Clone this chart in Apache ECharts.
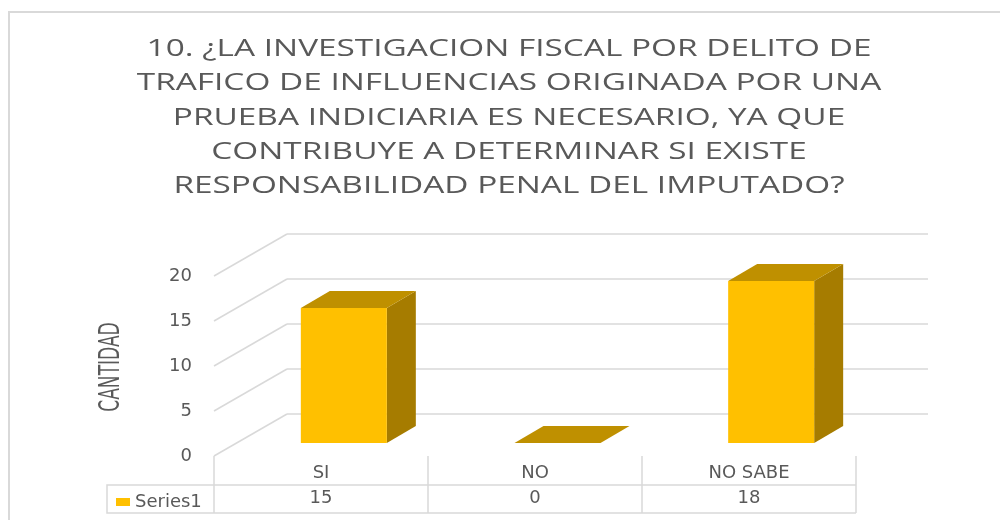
<!DOCTYPE html>
<html>
<head>
<meta charset="utf-8">
<script src="https://cdn.jsdelivr.net/npm/echarts@6/dist/echarts.min.js"></script>
<style>
  html, body { margin: 0; padding: 0; background: #fff; }
  #chart { width: 1000px; height: 520px; }
</style>
</head>
<body>
<div id="chart"></div>
<script>
// data
const categories = ['SI', 'NO', 'NO SABE'];
const seriesName = 'Series1';
const seriesValues = [15, 0, 18];
const yTicks = [0, 5, 10, 15, 20];

const titleLines = [
    '10. ¿LA INVESTIGACION FISCAL POR DELITO DE',
    'TRAFICO DE INFLUENCIAS ORIGINADA POR UNA',
    'PRUEBA INDICIARIA ES NECESARIO, YA QUE',
    'CONTRIBUYE A DETERMINAR SI EXISTE',
    'RESPONSABILIDAD PENAL DEL IMPUTADO?'
];

const textColor = '#595959';
const gridColor = '#d9d9d9';
const titleFont = '"Open Sans", "DejaVu Sans", sans-serif';
const font = '"DejaVu Sans", "Open Sans", sans-serif';

// 3D look: offsets from back wall plane
const FRONT = [-50, 29];   // bar front face
const BACK = [-21, 12];    // bar back face
const EDGE = [-73, 42];    // floor front edge
const HALF_W = 43;

const chart = echarts.init(document.getElementById('chart'));

function renderBar(params, api) {
    const i = api.value(0);
    const base = api.coord([i, 0]);
    const top = api.coord([i, api.value(1)]);
    const cx = base[0];

    const fl = cx + FRONT[0] - HALF_W, fr = cx + FRONT[0] + HALF_W;
    const fTop = top[1] + FRONT[1], fBot = base[1] + FRONT[1];
    const bl = cx + BACK[0] - HALF_W, br = cx + BACK[0] + HALF_W;
    const bTop = top[1] + BACK[1], bBot = base[1] + BACK[1];

    return {
        type: 'group',
        children: [
            {
                type: 'polygon',
                shape: { points: [[fr, fTop], [br, bTop], [br, bBot], [fr, fBot]] },
                style: { fill: '#A67C00' }
            },
            {
                type: 'rect',
                shape: { x: fl, y: fTop, width: fr - fl, height: fBot - fTop },
                style: { fill: '#FFC000' }
            },
            {
                type: 'polygon',
                shape: { points: [[fl, fTop], [fr, fTop], [br, bTop], [bl, bTop]] },
                style: { fill: '#BF9000' }
            }
        ]
    };
}

function renderSideWall(params, api) {
    const p = api.coord([0, api.value(0)]);
    const x0 = params.coordSys.x;
    return {
        type: 'line',
        shape: { x1: x0, y1: p[1], x2: x0 + EDGE[0], y2: p[1] + EDGE[1] },
        style: { stroke: gridColor, lineWidth: 1.5 }
    };
}

// title drawn as text elements so it can be stretched like the original
const titleGraphics = titleLines.map((line, k) => ({
    type: 'text', silent: true,
    x: 509, y: 49 + k * 34.4, scaleX: 1.39,
    style: {
        text: line,
        font: '24px ' + titleFont,
        fill: textColor, align: 'center', verticalAlign: 'middle'
    }
}));

const option = {
    animation: false,
    backgroundColor: '#fff',
    legend: {
        data: [seriesName],
        left: 111,
        top: 488,
        icon: 'rect',
        itemWidth: 14,
        itemHeight: 8,
        itemGap: 6,
        textStyle: { fontFamily: font, fontSize: 18, color: textColor, padding: [0, 0, 14, 0] }
    },
    grid: [
        // back wall
        { left: 287, top: 234, width: 641, height: 180 },
        // front edge (labels, data table)
        { left: 214, top: 276, width: 642, height: 180 }
    ],
    xAxis: [
        {
            type: 'category', gridIndex: 0, data: categories,
            axisLine: { show: false }, axisTick: { show: false }, axisLabel: { show: false }
        },
        {
            type: 'category', gridIndex: 1, data: categories,
            axisLine: { show: false },
            axisTick: { show: true, interval: 0, length: 57, lineStyle: { color: gridColor, width: 1.5 } },
            axisLabel: { interval: 0, margin: 8, fontFamily: font, fontSize: 18, color: textColor }
        },
        {
            type: 'category', gridIndex: 1, position: 'bottom', offset: 26,
            data: seriesValues.map(String),
            axisLine: { show: false }, axisTick: { show: false },
            axisLabel: { interval: 0, margin: 7, fontFamily: font, fontSize: 18, color: textColor }
        }
    ],
    yAxis: [
        {
            type: 'value', gridIndex: 0, min: 0, max: 20, interval: 5,
            axisLine: { show: false }, axisTick: { show: false }, axisLabel: { show: false },
            splitLine: { lineStyle: { color: gridColor, width: 1.5 } }
        },
        {
            type: 'value', gridIndex: 1, min: 0, max: 20, interval: 5,
            axisLine: { show: false }, axisTick: { show: false },
            axisLabel: { margin: 22, fontFamily: font, fontSize: 18, color: textColor },
            splitLine: { show: false }
        }
    ],
    graphic: [
        {
            type: 'rect', silent: true,
            shape: { x: 9, y: 12, width: 1100, height: 600 },
            style: { fill: null, stroke: gridColor, lineWidth: 2 }
        },
        {
            type: 'polyline', silent: true,
            shape: { points: [[856, 485], [107, 485], [107, 513], [856, 513]] },
            style: { fill: null, stroke: gridColor, lineWidth: 1.5 }
        },
        {
            type: 'text', silent: true,
            x: 112, y: 367, rotation: Math.PI / 2, scaleY: 1.45,
            style: {
                text: 'CANTIDAD',
                font: '19px "Liberation Sans Narrow", "DejaVu Sans Condensed", sans-serif',
                fill: textColor, align: 'center', verticalAlign: 'middle'
            }
        }
    ].concat(titleGraphics),
    series: [
        {
            name: 'wall',
            type: 'custom',
            xAxisIndex: 0, yAxisIndex: 0,
            silent: true,
            data: yTicks,
            encode: { y: 0 },
            renderItem: renderSideWall
        },
        {
            name: seriesName,
            type: 'custom',
            xAxisIndex: 0, yAxisIndex: 0,
            itemStyle: { color: '#FFC000' },
            data: seriesValues.map((v, i) => [i, v]),
            encode: { x: 0, y: 1 },
            renderItem: renderBar
        }
    ]
};

chart.setOption(option);
</script>
</body>
</html>
